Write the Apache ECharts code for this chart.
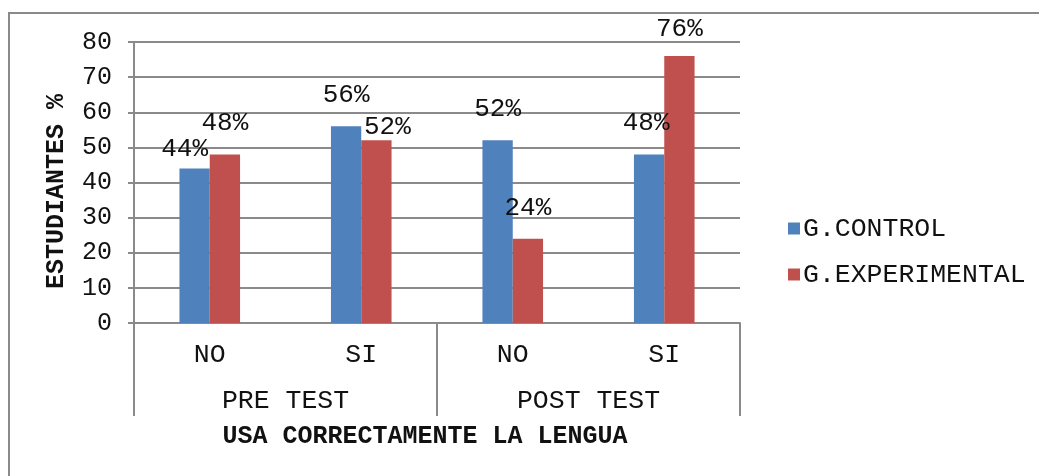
<!DOCTYPE html>
<html>
<head>
<meta charset="utf-8">
<script src="https://cdn.jsdelivr.net/npm/echarts@6/dist/echarts.min.js"></script>
<style>
  html, body { margin: 0; padding: 0; background: #fff; }
  #chart { width: 1039px; height: 476px; }
</style>
</head>
<body>
<div id="chart"></div>
<script>
// datos del gráfico
var subCategories = ['NO', 'SI', 'NO', 'SI']
var groups = ['PRE TEST', 'POST TEST']
var controlValues = [44, 56, 52, 48]
var experimentalValues = [48, 52, 24, 76]
var yTicks = [0, 10, 20, 30, 40, 50, 60, 70, 80]
// pequeños ajustes de las etiquetas (como en el original)
var controlNudge = [[-10, 12], [0, 0], [0, 0], [-3, 0]]
var experimentalNudge = [[0, 0], [11, 18], [0, 0], [0, 4]]

var font = "'Courier New', 'Liberation Mono', monospace"
var gray = '#8a8a8a'

function buildData(values, nudge) {
  return values.map(function (v, i) {
    return { value: v, label: { offset: nudge[i] } }
  })
}

var chart = echarts.init(document.getElementById('chart'))
chart.setOption({
  animation: false,
  textStyle: { fontFamily: font },
  grid: { left: 134, right: 299, top: 42, bottom: 153 },
  legend: {
    orient: 'vertical',
    left: 783,
    top: 210,
    itemWidth: 12,
    itemHeight: 12,
    itemGap: 19,
    icon: 'rect',
    textStyle: { fontFamily: font, fontSize: 26.5, color: '#111', padding: [0, 0, 0, -2] },
    data: ['G.CONTROL', 'G.EXPERIMENTAL']
  },
  xAxis: [
    {
      type: 'category',
      data: subCategories,
      axisLine: { show: true, lineStyle: { color: gray, width: 2 } },
      axisTick: { show: false },
      axisLabel: { margin: 18, fontSize: 26.5, color: '#111', fontFamily: font }
    },
    {
      type: 'category',
      data: groups,
      position: 'bottom',
      axisLine: { show: false },
      axisTick: { show: true, length: 93, lineStyle: { color: gray, width: 2 } },
      axisLabel: { margin: 64, fontSize: 26.5, color: '#111', fontFamily: font }
    }
  ],
  yAxis: {
    type: 'value',
    min: yTicks[0],
    max: yTicks[yTicks.length - 1],
    interval: yTicks[1] - yTicks[0],
    name: 'ESTUDIANTES %',
    nameLocation: 'middle',
    nameGap: 65,
    nameTextStyle: {
      fontFamily: font,
      fontSize: 25,
      fontWeight: 'bold',
      color: '#111',
      padding: [0, 18, 0, 0]
    },
    axisLine: { show: true, lineStyle: { color: gray, width: 2 } },
    axisTick: { show: true, length: 6, lineStyle: { color: gray, width: 2 } },
    axisLabel: { margin: 22, fontSize: 25, color: '#111', fontFamily: font },
    splitLine: { lineStyle: { color: gray, width: 2 } }
  },
  graphic: [
    {
      type: 'rect',
      shape: { x: 9, y: 13, width: 1100, height: 600 },
      style: { fill: 'none', stroke: gray, lineWidth: 2 },
      silent: true
    },
    {
      type: 'text',
      x: 425,
      y: 437,
      style: {
        text: 'USA CORRECTAMENTE LA LENGUA',
        font: 'bold 25px ' + font,
        fill: '#111',
        textAlign: 'center',
        textVerticalAlign: 'middle'
      }
    }
  ],
  series: [
    {
      name: 'G.CONTROL',
      type: 'bar',
      data: buildData(controlValues, controlNudge),
      barGap: 0,
      barCategoryGap: '60%',
      itemStyle: { color: '#4F81BD' },
      label: {
        show: true,
        position: 'top',
        distance: 18,
        formatter: '{c}%',
        fontFamily: font,
        fontSize: 26,
        color: '#111'
      }
    },
    {
      name: 'G.EXPERIMENTAL',
      type: 'bar',
      data: buildData(experimentalValues, experimentalNudge),
      barGap: 0,
      barCategoryGap: '60%',
      itemStyle: { color: '#C0504D' },
      label: {
        show: true,
        position: 'top',
        distance: 18,
        formatter: '{c}%',
        fontFamily: font,
        fontSize: 26,
        color: '#111'
      }
    }
  ]
})
</script>
</body>
</html>
